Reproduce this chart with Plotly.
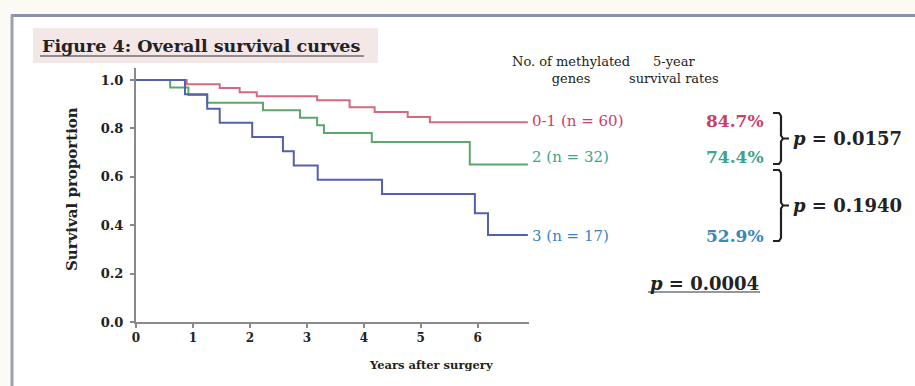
import plotly.graph_objects as go

# ---------------- data ----------------
years_tick_vals = [0, 1, 2, 3, 4, 5, 6]
surv_tick_vals = [0.0, 0.2, 0.4, 0.6, 0.8, 1.0]
surv_tick_text = ["0.0", "0.2", "0.4", "0.6", "0.8", "1.0"]

red_t = [0, 0.89, 1.47, 1.82, 2.12, 3.18, 3.75, 4.19, 4.77, 5.16, 6.88]
red_s = [1.0, 0.983, 0.967, 0.950, 0.933, 0.917, 0.888, 0.868, 0.847, 0.826, 0.826]

green_t = [0, 0.60, 0.92, 1.25, 2.23, 2.88, 3.18, 3.30, 4.14, 5.86, 6.88]
green_s = [1.0, 0.969, 0.938, 0.906, 0.875, 0.844, 0.813, 0.781, 0.744, 0.651, 0.651]

blue_t = [0, 0.86, 1.25, 1.47, 2.04, 2.58, 2.77, 3.19, 4.32, 5.95, 6.18, 6.88]
blue_s = [1.0, 0.941, 0.882, 0.824, 0.765, 0.706, 0.647, 0.588, 0.529, 0.45, 0.36, 0.36]

group_labels = ["0-1 (n = 60)", "2 (n = 32)", "3 (n = 17)"]
rate_labels = ["84.7%", "74.4%", "52.9%"]
p_pair_labels = ["p = 0.0157", "p = 0.1940"]
p_overall = "p = 0.0004"

# ---------------- layout helpers ----------------
W, H = 915, 386
X0, X1 = 136, 529   # plot area pixel edges
Y0, Y1 = 68, 322

def px(x):
    return (x - X0) / (X1 - X0)

def py(y):
    return (Y1 - y) / (Y1 - Y0)

FONT = "DejaVu Serif"
line_cols = ["#d7687e", "#5aa86e", "#5560ad"]
text_cols = ["#c8406a", "#3fa489", "#3a86c0"]

fig = go.Figure()
for t, s, c in zip([red_t, green_t, blue_t], [red_s, green_s, blue_s], line_cols):
    fig.add_trace(go.Scatter(x=t, y=s, mode="lines", line=dict(color=c, width=2, shape="hv"),
                             showlegend=False, hoverinfo="skip"))

shapes = []
# outer frame
shapes.append(dict(type="rect", xref="paper", yref="paper", x0=px(12), x1=px(W + 5), y0=py(H + 5), y1=py(15),
                   fillcolor="white", line=dict(width=0), layer="below"))
shapes.append(dict(type="line", xref="paper", yref="paper", x0=px(11), x1=px(W + 5), y0=py(15.5), y1=py(15.5),
                   line=dict(color="#8a90ad", width=3)))
shapes.append(dict(type="line", xref="paper", yref="paper", x0=px(12), x1=px(12), y0=py(15), y1=py(H + 5),
                   line=dict(color="#9a9fb3", width=3)))
# title highlight
shapes.append(dict(type="rect", xref="paper", yref="paper", x0=px(33), x1=px(378), y0=py(63), y1=py(28),
                   fillcolor="#f4e7e7", line=dict(width=0), layer="below"))
# title underline
shapes.append(dict(type="line", xref="paper", yref="paper", x0=px(40), x1=px(364), y0=py(56), y1=py(56),
                   line=dict(color="#333", width=1.2)))
# p overall underline
shapes.append(dict(type="line", xref="paper", yref="paper", x0=px(648), x1=px(760), y0=py(292), y1=py(292),
                   line=dict(color="#333", width=1.2)))

def brace(ytop, ybot, xl=773, xr=781, tip=789):
    ym = (ytop + ybot) / 2
    pts = [(xl, ytop), (xr - 2, ytop), (xr, ytop + 3), (xr, ym - 3), (xr + 2, ym), (tip, ym),
           (xr + 2, ym), (xr, ym + 3), (xr, ybot - 3), (xr - 2, ybot), (xl, ybot)]
    path = "M " + " L ".join(f"{px(a):.5f},{py(b):.5f}" for a, b in pts)
    return dict(type="path", xref="paper", yref="paper", path=path, line=dict(color="#222", width=2.2))

shapes.append(brace(113, 164))
shapes.append(brace(170, 241))

ann = []
def T(x, y, text, size=12, color="#222", anchor="center", bold=True, angle=0):
    ann.append(dict(xref="paper", yref="paper", x=px(x), y=py(y), text=text, showarrow=False,
                    xanchor=anchor, yanchor="middle", textangle=angle,
                    font=dict(family=FONT, size=size, color=color, weight="bold" if bold else "normal")))

T(40, 46, "Figure 4: Overall survival curves", size=17.5, anchor="left")
T(72, 189, "Survival proportion", size=15, angle=-90)
T(431, 365, "Years after surgery", size=11.5)
T(571, 70, "No. of methylated<br>genes", size=13, bold=False)
T(674, 70, "5-year<br>survival rates", size=13, bold=False)
ys = [121, 157, 236]
for lab, rate, y, c in zip(group_labels, rate_labels, ys, text_cols):
    T(530, y, lab, size=15, color=c, anchor="left", bold=False)
    T(766, y, rate, size=17, color=c, anchor="right")
T(791, 138, "<i>p</i>" + p_pair_labels[0][1:], size=18, anchor="left")
T(791, 206, "<i>p</i>" + p_pair_labels[1][1:], size=18, anchor="left")
T(648, 283, "<i>p</i>" + p_overall[1:], size=18, anchor="left")

fig.update_layout(
    width=W, height=H,
    margin=dict(l=X0, r=W - X1, t=Y0, b=H - Y1, pad=0),
    paper_bgcolor="#fbfaf5", plot_bgcolor="rgba(0,0,0,0)",
    shapes=shapes, annotations=ann,
    xaxis=dict(range=[0, 6.9], tickvals=years_tick_vals, showgrid=False, zeroline=False,
               showline=True, linecolor="#8a8a8a", linewidth=2, ticks="outside", ticklen=4,
               tickcolor="#8a8a8a", tickwidth=1.5,
               tickfont=dict(family=FONT, size=12, color="#222", weight="bold")),
    yaxis=dict(range=[0, 1.05], tickvals=surv_tick_vals, ticktext=surv_tick_text, showgrid=False,
               zeroline=False, showline=True, linecolor="#8a8a8a", linewidth=2, ticks="outside",
               ticklen=4, tickcolor="#8a8a8a", tickwidth=1.5, ticklabelstandoff=4,
               tickfont=dict(family=FONT, size=13, color="#222", weight="bold")),
)

fig.write_html("out.html", config={"displayModeBar": False},
               post_script="document.body.style.margin='0';document.body.style.overflow='hidden';")
